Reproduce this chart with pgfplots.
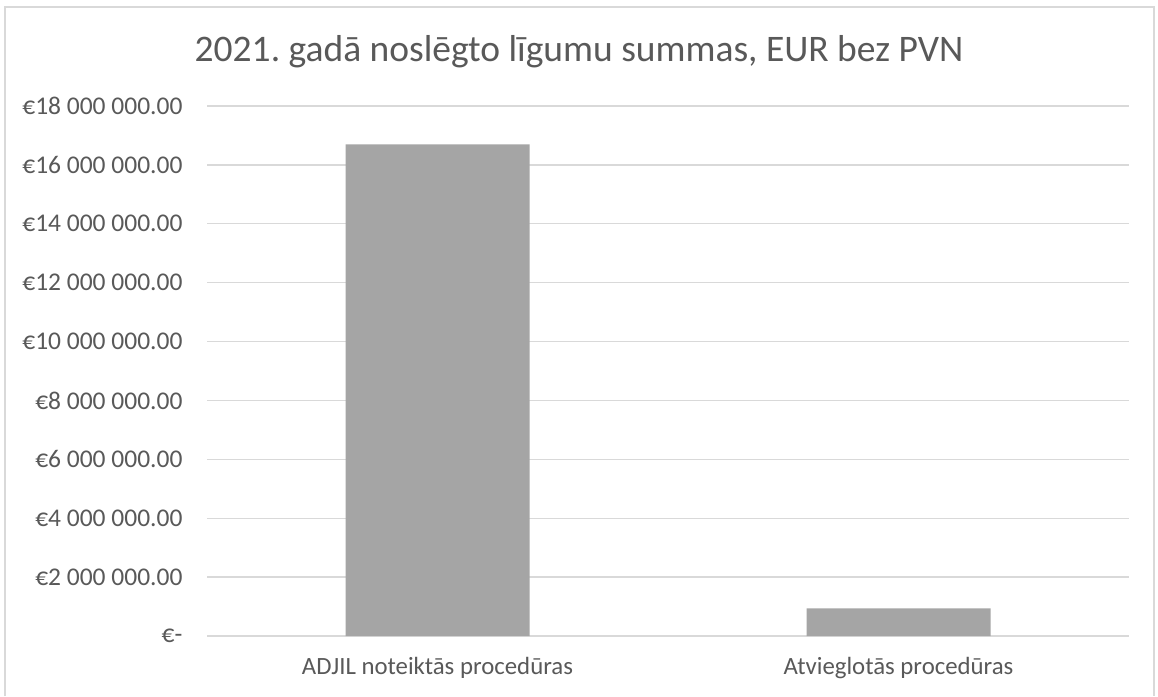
\documentclass[border=0pt]{standalone}
\usepackage{pgfplots}
\pgfplotsset{compat=1.18}
\usepackage{fontspec}
\setmainfont{Carlito}
\definecolor{txt}{HTML}{595959}
\definecolor{gridc}{HTML}{D9D9D9}
\definecolor{barc}{HTML}{A5A5A5}
\begin{document}
\frenchspacing
\begin{tikzpicture}[x=1pt,y=1pt]
\useasboundingbox (0,0) rectangle (1158,696);
\fill[white] (0,0) rectangle (1158,696);
\draw[gridc, line width=1.2pt] (5,0) -- (5,689) -- (1154,689) -- (1154,0);
\node[txt, font=\fontsize{37.5}{44}\selectfont, anchor=base] at (579,634) {2021.\ gadā noslēgto līgumu summas, EUR bez PVN};
\begin{axis}[
  at={(207pt,60pt)}, anchor=south west,
  scale only axis, width=922pt, height=530pt,
  xmin=-0.5, xmax=1.5, ymin=0, ymax=18000000,
  axis line style={draw=none},
  major tick length=0pt,
  ymajorgrids, grid style={gridc, line width=1.3pt},
  xtick={0,1},
  xticklabels={ADJIL noteiktās procedūras, Atvieglotās procedūras},
  ytick={0,2000000,4000000,6000000,8000000,10000000,12000000,14000000,16000000,18000000},
  yticklabels={€-\hspace{10pt}, €2 000 000.00, €4 000 000.00, €6 000 000.00, €8 000 000.00, €10 000 000.00, €12 000 000.00, €14 000 000.00, €16 000 000.00, €18 000 000.00},
  scaled y ticks=false,
  ticklabel style={txt},
  yticklabel style={font=\fontsize{25.5}{30}\selectfont, xshift=-21pt},
  xticklabel style={font=\fontsize{24.8}{30}\selectfont, anchor=base, yshift=-38.3pt},
  ybar, bar width=184pt,
]
\addplot[fill=barc, draw=none] coordinates {(0,16700000) (1,940000)};
\end{axis}
\end{tikzpicture}
\end{document}
